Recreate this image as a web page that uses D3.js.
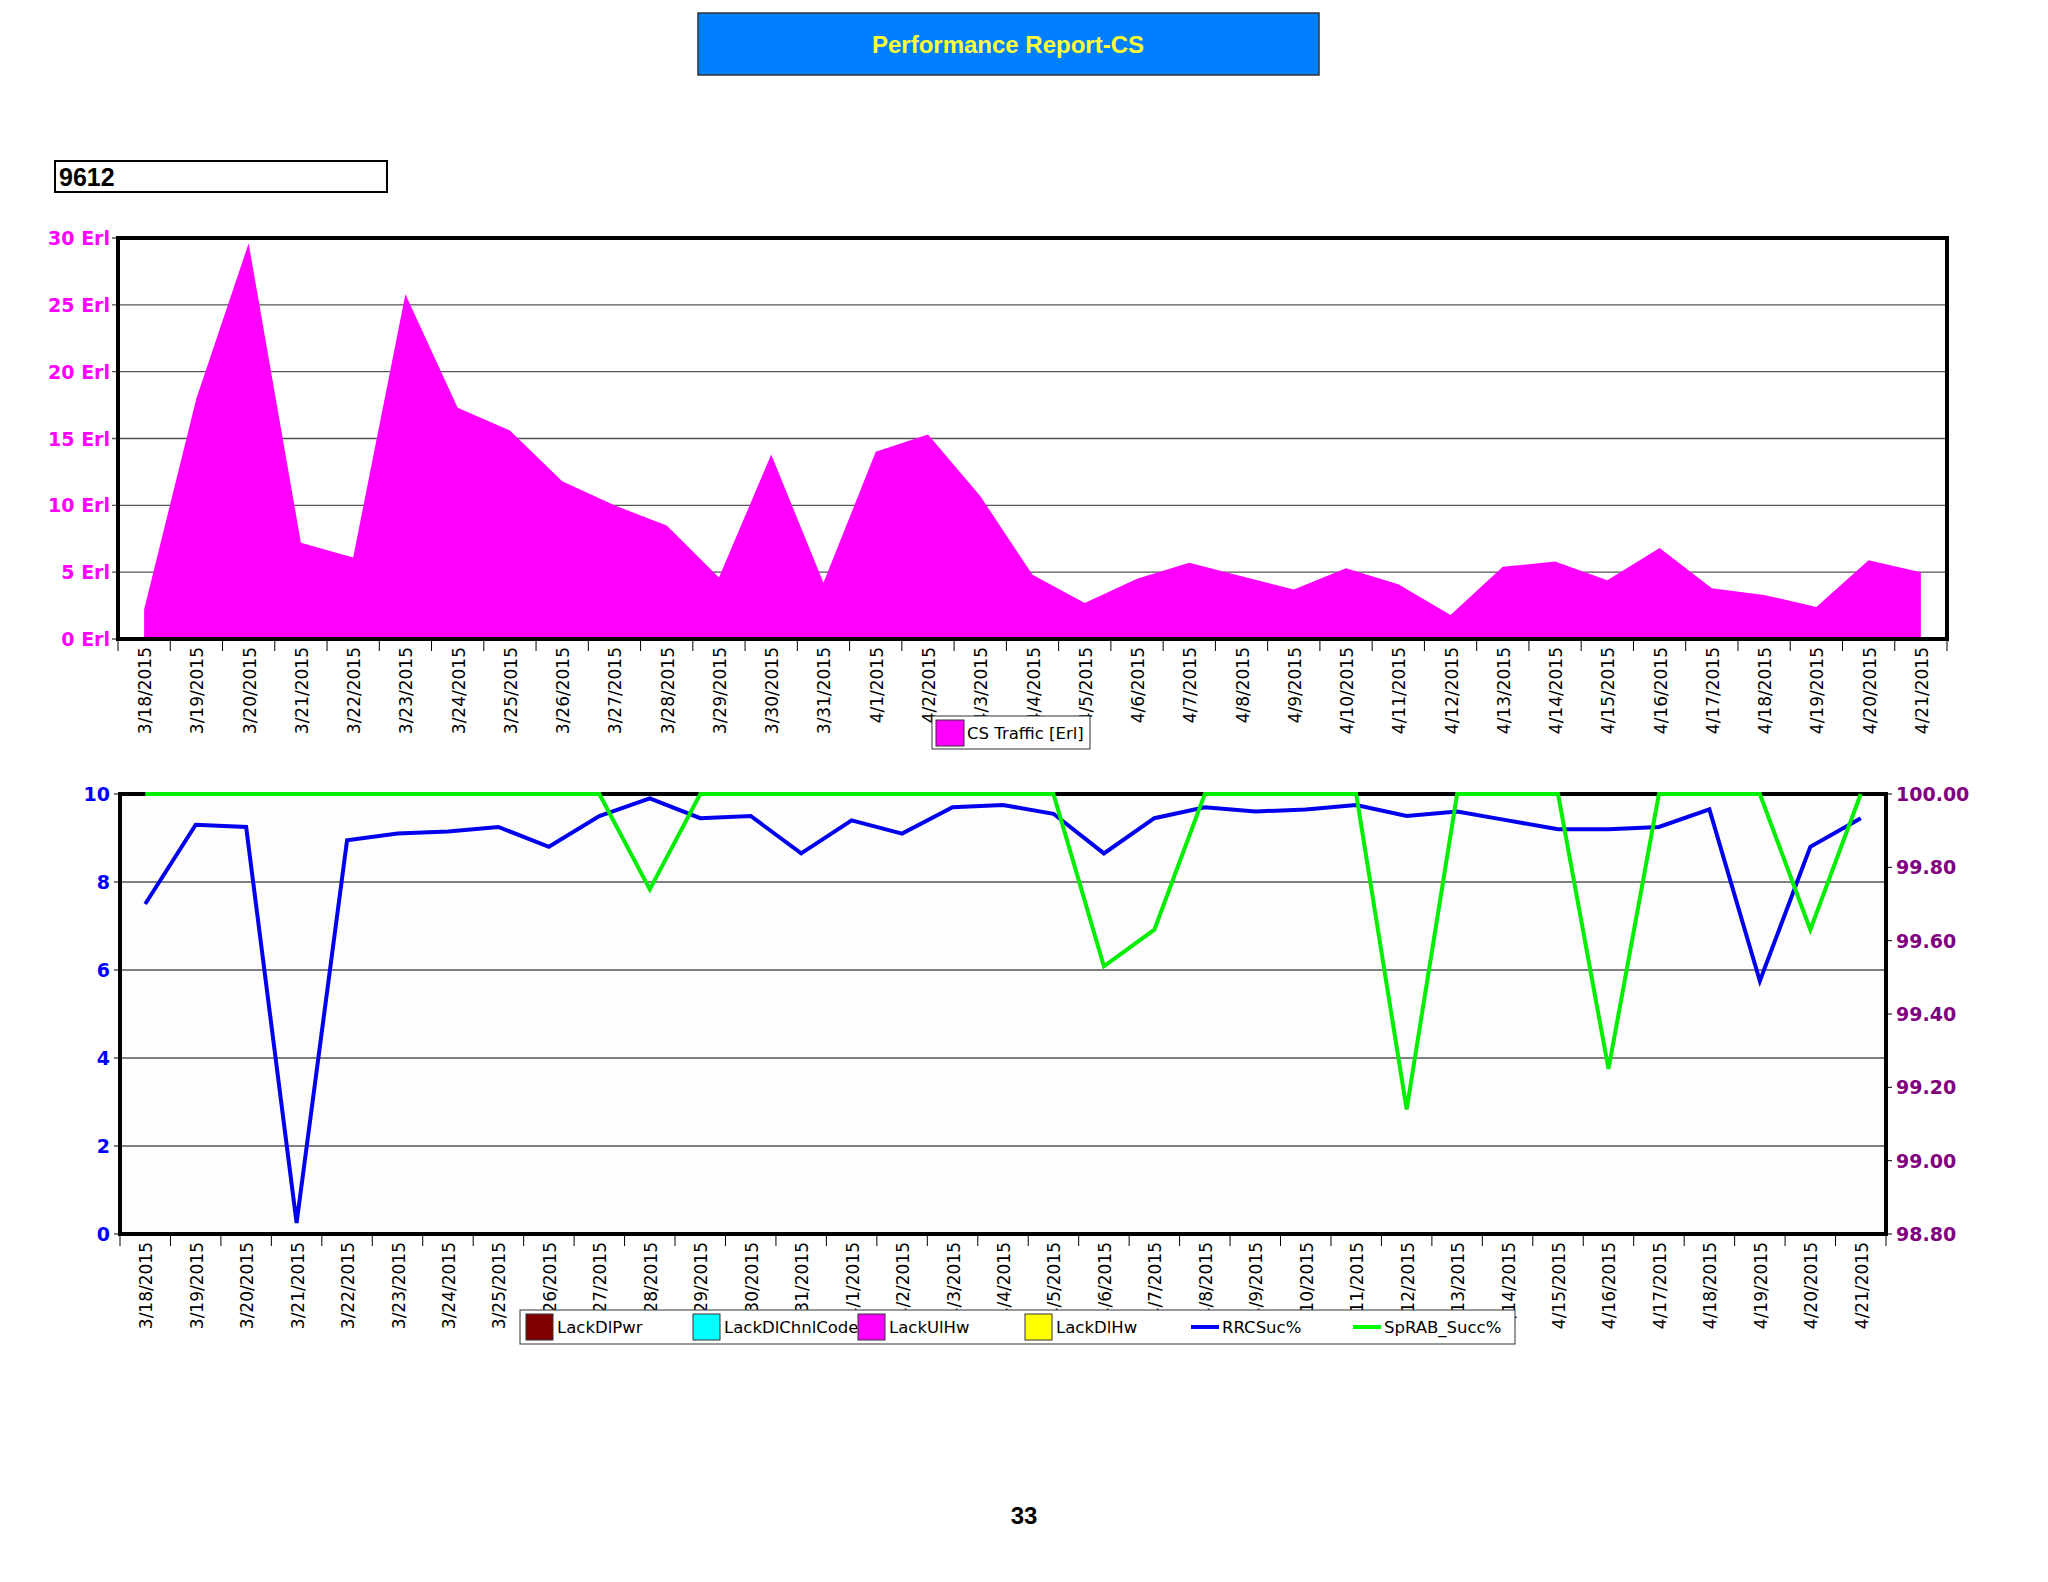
<!DOCTYPE html>
<html><head><meta charset="utf-8">
<script src="https://cdn.jsdelivr.net/npm/d3@7/dist/d3.min.js"></script>
<style>body{margin:0;background:#fff}</style></head>
<body><svg id="c" width="2048" height="1582"></svg>
<script>
const dates = ["3/18/2015","3/19/2015","3/20/2015","3/21/2015","3/22/2015","3/23/2015","3/24/2015","3/25/2015","3/26/2015","3/27/2015","3/28/2015","3/29/2015","3/30/2015","3/31/2015","4/1/2015","4/2/2015","4/3/2015","4/4/2015","4/5/2015","4/6/2015","4/7/2015","4/8/2015","4/9/2015","4/10/2015","4/11/2015","4/12/2015","4/13/2015","4/14/2015","4/15/2015","4/16/2015","4/17/2015","4/18/2015","4/19/2015","4/20/2015","4/21/2015"];
const csTraffic = [2.2,18,29.6,7.2,6.1,25.8,17.3,15.6,11.8,10,8.5,4.6,13.8,4.2,14,15.3,10.7,4.8,2.7,4.5,5.7,4.7,3.7,5.3,4.1,1.8,5.4,5.8,4.4,6.8,3.8,3.3,2.4,5.9,5.0];
const rrcSuc = [7.5,9.3,9.25,0.25,8.95,9.1,9.15,9.25,8.8,9.5,9.9,9.45,9.5,8.65,9.4,9.1,9.7,9.75,9.55,8.65,9.45,9.7,9.6,9.65,9.75,9.5,9.6,9.4,9.2,9.2,9.25,9.65,5.75,8.8,9.45];
const spRab = [100,100,100,100,100,100,100,100,100,100,99.74,100,100,100,100,100,100,100,100,99.53,99.63,100,100,100,100,99.14,100,100,100,99.25,100,100,100,99.63,100];
const topTicks = [0,5,10,15,20,25,30];
const leftTicks = [0,2,4,6,8,10];
const rightTicks = [98.8,99.0,99.2,99.4,99.6,99.8,100.0];
const legend2 = [["LackDlPwr","#800000","box"],["LackDlChnlCode","#00ffff","box"],["LackUlHw","#ff00ff","box"],["LackDlHw","#ffff00","box"],["RRCSuc%","#0000ff","line"],["SpRAB_Succ%","#00ff00","line"]];

const svg = d3.select("#c");
const F = "DejaVu Sans, Verdana, sans-serif";

svg.append("rect").attr("x",698).attr("y",13).attr("width",621).attr("height",62).attr("fill","#0080ff").attr("stroke","#333").attr("stroke-width",1.5);
svg.append("text").attr("x",1008).attr("y",53).attr("text-anchor","middle").attr("font-family","Liberation Sans, Arial").attr("font-weight","bold").attr("font-size",24).attr("fill","#ffff33").text("Performance Report-CS");
svg.append("rect").attr("x",55).attr("y",161).attr("width",332).attr("height",31).attr("fill","#fff").attr("stroke","#000").attr("stroke-width",2);
svg.append("text").attr("x",59).attr("y",186).attr("font-family","Liberation Sans, Arial").attr("font-weight","bold").attr("font-size",25).text("9612");
svg.append("text").attr("x",1024).attr("y",1524).attr("text-anchor","middle").attr("font-family","Liberation Sans, Arial").attr("font-weight","bold").attr("font-size",24).text("33");

function xLabels(g, x, y0) {
  dates.forEach(d => {
    g.append("text").attr("transform",`translate(${x(d)+x.bandwidth()/2+7},${y0+6}) rotate(-90)`)
      .attr("text-anchor","end").attr("font-family",F).attr("font-size",17).attr("textLength",null).text(d);
  });
  g.selectAll(null).data(dates.concat(["_end"])).enter().append("line")
    .attr("x1",(d,i)=>x.range()[0]+i*x.step()).attr("x2",(d,i)=>x.range()[0]+i*x.step())
    .attr("y1",y0).attr("y2",y0+10).attr("stroke","#000");
}

{
  const L=118,R=1947,T=238,B=639;
  const x = d3.scaleBand().domain(dates).range([L,R]);
  const y = d3.scaleLinear().domain([0,30]).range([B,T]);
  const g = svg.append("g");
  topTicks.forEach(t=>{
    g.append("line").attr("x1",L-6).attr("x2",R).attr("y1",y(t)).attr("y2",y(t)).attr("stroke","#555").attr("stroke-width",1.3);
    g.append("text").attr("x",L-8).attr("y",y(t)+7).attr("text-anchor","end").attr("font-family",F).attr("font-weight","bold").attr("font-size",19).attr("fill","#ff00ff").text(t+" Erl");
  });
  const area = d3.area().x((d,i)=>x(dates[i])+x.bandwidth()/2).y0(B).y1(d=>y(d));
  g.append("path").attr("d",area(csTraffic)).attr("fill","#ff00ff");
  g.append("rect").attr("x",L).attr("y",T).attr("width",R-L).attr("height",B-T).attr("fill","none").attr("stroke","#000").attr("stroke-width",4);
  xLabels(g,x,B+2);
  g.append("rect").attr("x",932).attr("y",716).attr("width",158).attr("height",33).attr("fill","#fff").attr("stroke","#333");
  g.append("rect").attr("x",936).attr("y",720).attr("width",28).attr("height",26).attr("fill","#ff00ff").attr("stroke","#333");
  g.append("text").attr("x",967).attr("y",739).attr("font-family",F).attr("font-size",16.5).text("CS Traffic [Erl]");
}

{
  const L=120,R=1886,T=794,B=1234;
  const x = d3.scaleBand().domain(dates).range([L,R]);
  const y = d3.scaleLinear().domain([0,10]).range([B,T]);
  const y2 = d3.scaleLinear().domain([98.8,100]).range([B,T]);
  const g = svg.append("g");
  g.append("rect").attr("x",L).attr("y",T).attr("width",R-L).attr("height",B-T).attr("fill","#fdfdfd");
  leftTicks.forEach(t=>{
    g.append("line").attr("x1",L-6).attr("x2",R).attr("y1",y(t)).attr("y2",y(t)).attr("stroke","#555").attr("stroke-width",1.3);
    g.append("text").attr("x",L-10).attr("y",y(t)+7).attr("text-anchor","end").attr("font-family",F).attr("font-weight","bold").attr("font-size",19).attr("fill","#0000ff").text(t);
  });
  rightTicks.forEach(t=>{
    g.append("line").attr("x1",R).attr("x2",R+6).attr("y1",y2(t)).attr("y2",y2(t)).attr("stroke","#000");
    g.append("text").attr("x",R+10).attr("y",y2(t)+7).attr("font-family",F).attr("font-weight","bold").attr("font-size",19).attr("fill","#800080").text(t.toFixed(2));
  });
  g.append("rect").attr("x",L).attr("y",T).attr("width",R-L).attr("height",B-T).attr("fill","none").attr("stroke","#000").attr("stroke-width",4);
  const cx = i => x(dates[i])+x.bandwidth()/2;
  g.append("path").attr("d",d3.line().x((d,i)=>cx(i)).y(d=>y(d))(rrcSuc)).attr("fill","none").attr("stroke","#0000ee").attr("stroke-width",4);
  g.append("path").attr("d",d3.line().x((d,i)=>cx(i)).y(d=>y2(d))(spRab)).attr("fill","none").attr("stroke","#00ee00").attr("stroke-width",4);
  xLabels(g,x,B+2);
  const lx=520, ly=1310;
  g.append("rect").attr("x",lx).attr("y",ly).attr("width",995).attr("height",34).attr("fill","#fff").attr("stroke","#333");
  const offs=[0,167,332,499,665,827];
  legend2.forEach((d,i)=>{
    const ox=lx+6+offs[i];
    if(d[2]==="box") g.append("rect").attr("x",ox).attr("y",ly+4).attr("width",27).attr("height",26).attr("fill",d[1]).attr("stroke","#333");
    else g.append("line").attr("x1",ox).attr("x2",ox+28).attr("y1",ly+17).attr("y2",ly+17).attr("stroke",d[1]).attr("stroke-width",4);
    g.append("text").attr("x",ox+31).attr("y",ly+23).attr("font-family",F).attr("font-size",16.5).text(d[0]);
  });
}
</script></body></html>
